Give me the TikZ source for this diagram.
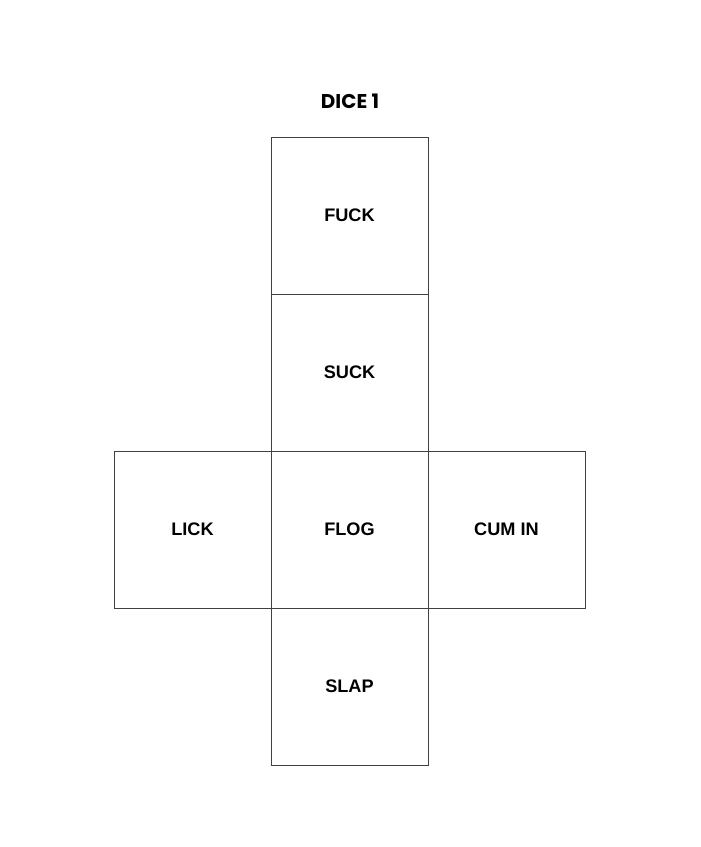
\documentclass[tikz,border=0pt]{standalone}
\usepackage{fontspec}
\setmainfont{Liberation Sans}
\newfontfamily\titlefont{Poppins}
\usetikzlibrary{positioning}

\begin{document}
\begin{tikzpicture}[
  face/.style={draw=black!75, line width=0.85pt, minimum size=4.71cm, inner sep=0pt, outer sep=0pt, font=\fontsize{15.5}{18}\selectfont\bfseries},
  heading/.style={font=\titlefont\fontsize{17}{20}\selectfont\bfseries},
  node distance=0cm
]
\useasboundingbox (0,0) rectangle (21,-25.41);

% title
\node[heading] (title) at (10.5,-3.03) {DICE 1};

% column of faces
\node[face] (fuck) at (10.485,-6.465) {FUCK};
\node[face, below=of fuck] (suck) {SUCK};
\node[face, below=of suck] (flog) {FLOG};
\node[face, below=of flog] (slap) {SLAP};

% side faces
\node[face, left=of flog] (lick) {LICK};
\node[face, right=of flog] (cumin) {CUM IN};

\end{tikzpicture}
\end{document}
